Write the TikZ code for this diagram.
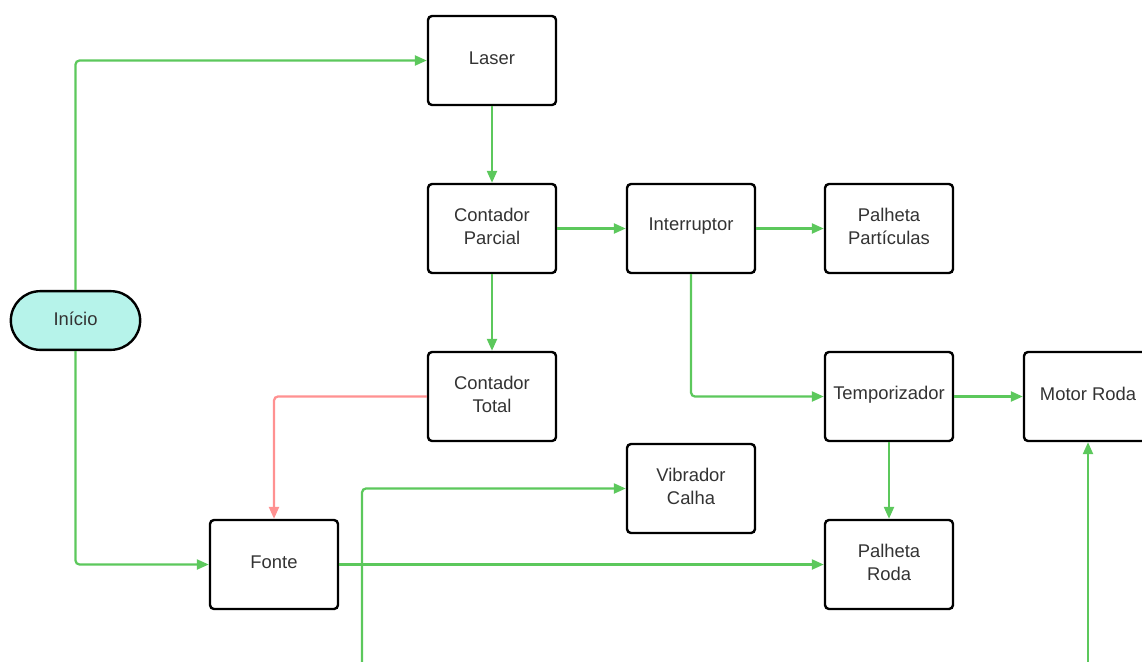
\documentclass[tikz,border=0pt]{standalone}
\usepackage{fontspec}
\setmainfont{Liberation Sans}
\usetikzlibrary{arrows.meta}
\definecolor{lgreen}{RGB}{92,200,92}
\definecolor{lred}{RGB}{255,145,145}
\definecolor{lcyan}{RGB}{182,243,234}
\definecolor{txt}{RGB}{51,51,51}
\begin{document}
\begin{tikzpicture}[x=0.75pt,y=-0.75pt,
  lbl/.style={align=center,text=txt,font=\fontsize{13.8}{17.25}\selectfont,inner sep=0pt,yshift=1.6pt},
  box/.style={draw=black,line width=1.8pt,rounded corners=3pt,minimum width=96pt,minimum height=66.75pt,fill=white,inner sep=0pt,label={[lbl]center:#1}},
  term/.style={box=#1,fill=lcyan,minimum width=97pt,minimum height=44pt,rounded corners=22pt},
  gline/.style={draw=lgreen,line width=1.7pt,rounded corners=3pt,-{Triangle[length=9pt,width=7.5pt]}},
  rline/.style={draw=lred,line width=1.7pt,rounded corners=3pt,-{Triangle[length=9pt,width=7.5pt]}}]
\clip (0,0) rectangle (1142,661);
\node[term={Início}] (inicio) at (75.5,320.5) {};
\node[box={Laser}] (laser) at (492,60.5) {};
\node[box={Contador\\Parcial}] (cp) at (492,228.5) {};
\node[box={Interruptor}] (int) at (691,228.5) {};
\node[box={Palheta\\Partículas}] (pp) at (889,228.5) {};
\node[box={Contador\\Total}] (ct) at (492,396.5) {};
\node[box={Temporizador}] (temp) at (889,396.5) {};
\node[box={Motor Roda}] (motor) at (1088,396.5) {};
\node[box={Vibrador\\Calha}] (vib) at (691,488.5) {};
\node[box={Fonte}] (fonte) at (274,564.5) {};
\node[box={Palheta\\Roda}] (pr) at (889,564.5) {};
\coordinate (b1) at (362,670);
\coordinate (b2) at (1088,670);
\draw[gline] (inicio.north) |- (laser.west);
\draw[gline] (inicio.south) |- (fonte.west);
\draw[gline] (laser.south) -- (cp.north);
\draw[gline] (cp.east) -- (int.west);
\draw[gline] (int.east) -- (pp.west);
\draw[gline] (cp.south) -- (ct.north);
\draw[gline] (int.south) |- (temp.west);
\draw[gline] (temp.east) -- (motor.west);
\draw[gline] (temp.south) -- (pr.north);
\draw[rline] (ct.west) -| (fonte.north);
\draw[gline] (fonte.east) -- (pr.west);
\draw[gline] (b1) |- (vib.west);
\draw[gline] (b2) -- (motor.south);
\end{tikzpicture}
\end{document}
